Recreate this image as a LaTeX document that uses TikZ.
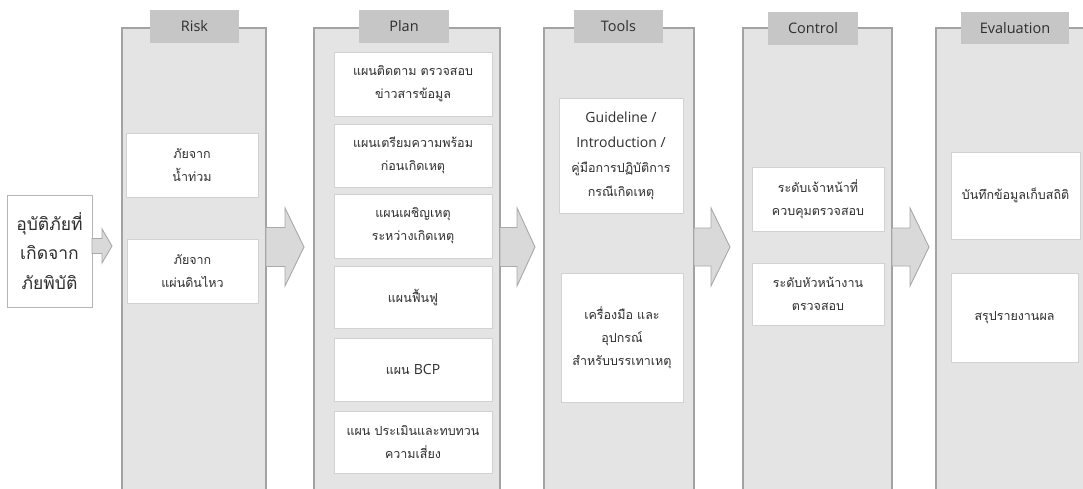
\documentclass[tikz,border=0pt]{standalone}
\usepackage{fontspec}
\usetikzlibrary{calc}
\newfontfamily\thaifont[Script=Thai]{Loma}
\newfontfamily\headfont{Open Sans}
\definecolor{colfill}{HTML}{E4E4E4}
\definecolor{colline}{HTML}{A3A3A3}
\definecolor{headfill}{HTML}{C6C6C6}
\definecolor{boxline}{HTML}{D2D2D2}
\definecolor{arrfill}{HTML}{D9D9D9}
\definecolor{arrline}{HTML}{A9A9A9}
\definecolor{ink}{HTML}{2E2E2E}
\begin{document}
\begin{tikzpicture}[x=1pt,y=-1pt,
  column/.style={draw=colline,fill=colfill,line width=1.3pt,inner sep=0pt,outer sep=0pt},
  header/.style={fill=headfill,inner sep=0pt,outer sep=0pt,text=ink,
    font=\headfont\fontsize{14.5}{17}\selectfont},
  item/.style={draw=boxline,fill=white,line width=0.9pt,inner sep=0pt,outer sep=0pt,
    align=center,text=ink,font=\thaifont\fontsize{12.5}{23}\selectfont},
  source/.style={draw=colline!80,fill=white,line width=0.9pt,inner sep=0pt,outer sep=0pt,
    align=center,text=ink,font=\thaifont\fontsize{17.5}{29.5}\selectfont},
  blockarrow/.style n args={3}{fill=arrfill,draw=arrline,line width=0.9pt,line join=miter,
    to path={let \p1=(\tikztostart),\p2=(\tikztotarget) in
      (\x1,\y1+#2) -- (\x2-#1,\y1+#2) -- (\x2-#1,\y1+#3) -- (\x2,\y1)
      -- (\x2-#1,\y1-#3) -- (\x2-#1,\y1-#2) -- (\x1,\y1-#2) -- cycle}},
]
\useasboundingbox[fill=white] (0,0) rectangle (1083,488);
\newcommand\lat[1]{{\headfont\fontsize{14}{25.5}\selectfont #1}}

% stage columns (they run on past the lower and right edges)
\node[column,minimum width=144pt,minimum height=480pt] (risk)    at (194,268) {};
\node[column,minimum width=186pt,minimum height=480pt] (plan)    at (407,268) {};
\node[column,minimum width=150pt,minimum height=480pt] (tools)   at (619,268) {};
\node[column,minimum width=149pt,minimum height=480pt] (control) at (817.5,268) {};
\node[column,minimum width=160pt,minimum height=480pt] (eval)    at (1016,268) {};

% column headers
\node[header,minimum width=89pt,minimum height=33pt]  (hrisk)    at (194.5,26.5) {Risk};
\node[header,minimum width=90pt,minimum height=33pt]  (hplan)    at (404,26.5)   {Plan};
\node[header,minimum width=89pt,minimum height=33pt]  (htools)   at (618.5,26.5) {Tools};
\node[header,minimum width=90pt,minimum height=33pt]  (hcontrol) at (813,28.5)   {Control};
\node[header,minimum width=108pt,minimum height=32pt] (heval)    at (1015,28)    {Evaluation};

% starting event
\node[source,minimum width=85pt,minimum height=112pt] (src) at (49.5,251)
  {อุบัติภัยที่\\เกิดจาก\\ภัยพิบัติ};

% Risk
\node[item,minimum width=132pt,minimum height=64pt] (r1) at (192,165)   {ภัยจาก\\น้ำท่วม};
\node[item,minimum width=131pt,minimum height=64pt] (r2) at (192.5,271) {ภัยจาก\\แผ่นดินไหว};

% Plan
\node[item,minimum width=158pt,minimum height=64pt] (p1) at (413,84)    {แผนติดตาม ตรวจสอบ\\ข่าวสารข้อมูล};
\node[item,minimum width=158pt,minimum height=63pt] (p2) at (413,155.5) {แผนเตรียมความพร้อม\\ก่อนเกิดเหตุ};
\node[item,minimum width=158pt,minimum height=64pt] (p3) at (413,226)   {แผนเผชิญเหตุ\\ระหว่างเกิดเหตุ};
\node[item,minimum width=158pt,minimum height=62pt] (p4) at (413,297)   {แผนฟื้นฟู};
\node[item,minimum width=158pt,minimum height=63pt] (p5) at (413,369.5) {แผน \lat{BCP}};
\node[item,minimum width=158pt,minimum height=62pt] (p6) at (413,442)   {แผน ประเมินและทบทวน\\ความเสี่ยง};

% Tools
\node[item,minimum width=124pt,minimum height=115pt] (t1) at (621,155.5)
  {\lat{Guideline /}\\[2pt]\lat{Introduction /}\\[2pt]คู่มือการปฏิบัติการ\\[1pt]กรณีเกิดเหตุ};
\node[item,minimum width=122pt,minimum height=129pt] (t2) at (622,337.5)
  {เครื่องมือ และ\\อุปกรณ์\\สำหรับบรรเทาเหตุ};

% Control
\node[item,minimum width=132pt,minimum height=64pt] (c1) at (818,199) {ระดับเจ้าหน้าที่\\ควบคุมตรวจสอบ};
\node[item,minimum width=132pt,minimum height=62pt] (c2) at (818,294) {ระดับหัวหน้างาน\\ตรวจสอบ};

% Evaluation
\node[item,minimum width=129pt,minimum height=87pt] (e1) at (1015.5,195.5) {บันทึกข้อมูลเก็บสถิติ};
\node[item,minimum width=127pt,minimum height=89pt] (e2) at (1014.5,317.5) {สรุปรายงานผล};

% flow arrows between the stages
\coordinate (flow) at (0,247);
\coordinate (tip0) at (112,246);
\coordinate (tip1) at (304,247);
\coordinate (tip2) at (535,247);
\coordinate (tip3) at (730,247);
\coordinate (tip4) at (929,247);
\draw[blockarrow={10pt}{7.5pt}{17pt}] (src.east |- tip0) to (tip0);
\draw[blockarrow={19pt}{19.5pt}{39pt}] (risk.east |- flow) to (tip1);
\draw[blockarrow={18pt}{19.5pt}{39pt}] (plan.east |- flow) to (tip2);
\draw[blockarrow={19pt}{19pt}{39pt}] (tools.east |- flow) to (tip3);
\draw[blockarrow={19pt}{19pt}{39pt}] (control.east |- flow) to (tip4);
\end{tikzpicture}
\end{document}
